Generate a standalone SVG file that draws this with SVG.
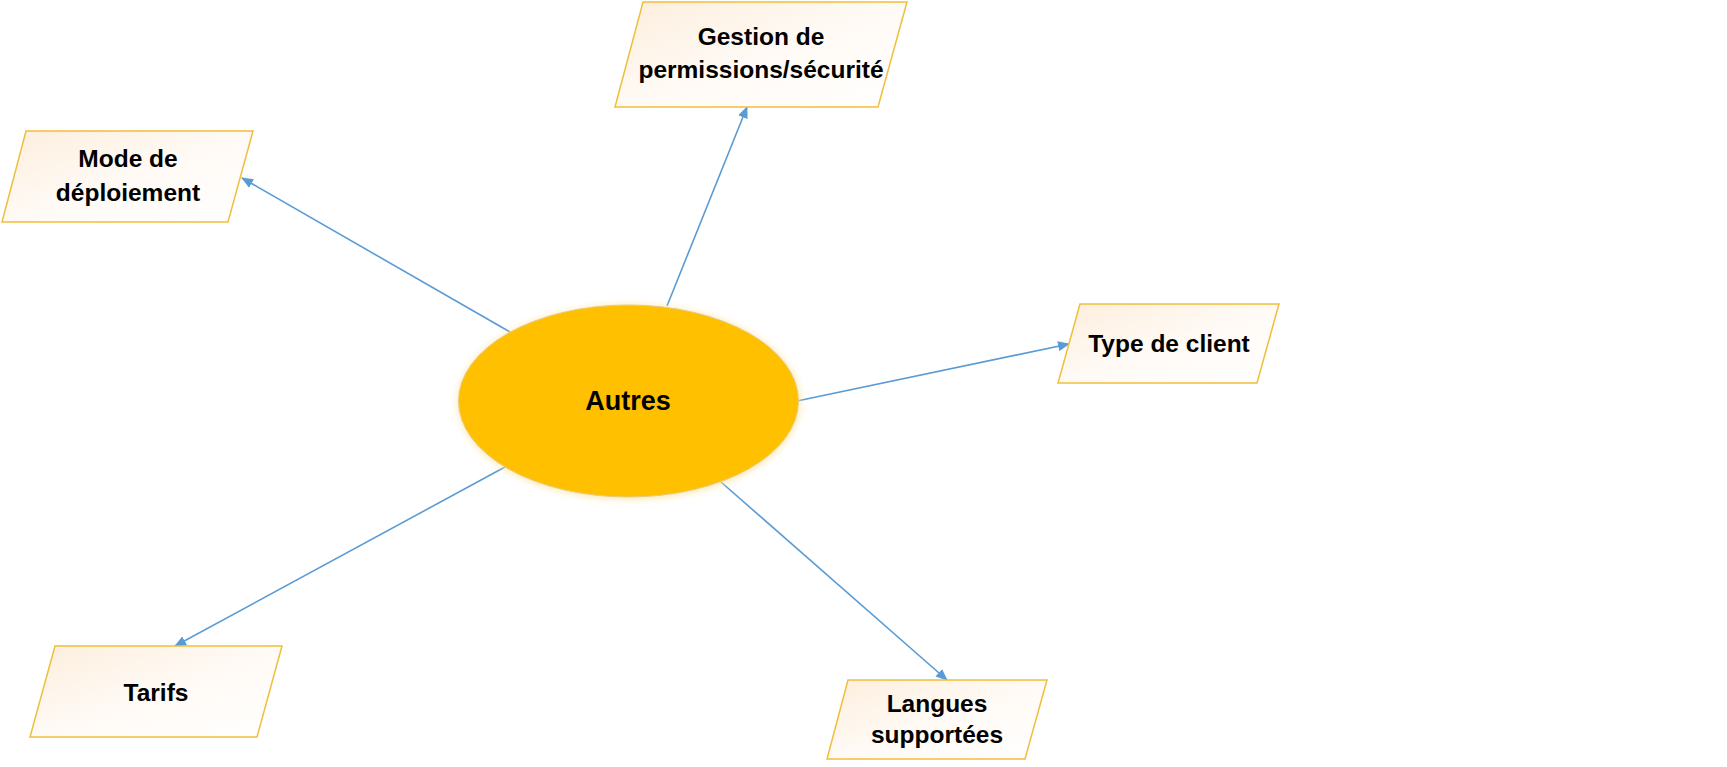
<svg xmlns="http://www.w3.org/2000/svg" width="1727" height="767" viewBox="0 0 1727 767">
<defs>
<linearGradient id="boxfill" x1="0" y1="0" x2="1" y2="1">
<stop offset="0" stop-color="#fdeedc"/>
<stop offset="0.5" stop-color="#fffaf5"/>
<stop offset="1" stop-color="#ffffff"/>
</linearGradient>
<filter id="glow" x="-20%" y="-20%" width="140%" height="140%">
<feGaussianBlur stdDeviation="3"/>
</filter>
<marker id="arr" viewBox="0 0 12 10" refX="11" refY="5" markerWidth="12" markerHeight="10" markerUnits="userSpaceOnUse" orient="auto">
<path d="M0,0 L12,5 L0,10 Z" fill="#5b9bd5"/>
</marker>
</defs>
<style>
.box{fill:url(#boxfill);stroke:#efbe3a;stroke-width:1.5}
.lbl{font-family:"Liberation Sans",Arial,sans-serif;font-weight:bold;font-size:24.5px;fill:#000;text-anchor:middle}
.conn{stroke:#5b9bd5;stroke-width:1.6;fill:none;marker-end:url(#arr)}
</style>
<rect width="1727" height="767" fill="#ffffff"/>
<g id="connectors">
<line class="conn" x1="510" y1="332" x2="242" y2="178"/>
<line class="conn" x1="667" y1="306" x2="747" y2="107"/>
<line class="conn" x1="797" y1="401" x2="1069" y2="344"/>
<line class="conn" x1="505" y1="467" x2="175" y2="646"/>
<line class="conn" x1="721" y1="482" x2="947" y2="680"/>
</g>
<g id="center">
<ellipse cx="629" cy="402" rx="172" ry="98" fill="#fbe3a0" opacity="0.7" filter="url(#glow)"/>
<ellipse cx="628.5" cy="401" rx="170" ry="96" fill="#ffc000" stroke="#e9c98a" stroke-width="1"/>
<text class="lbl" x="628" y="410" style="font-size:27px">Autres</text>
</g>
<g id="mode">
<polygon class="box" points="26,131 253,131 228,222 2,222"/>
<text class="lbl" x="128" y="167">Mode de</text>
<text class="lbl" x="128" y="201">déploiement</text>
</g>
<g id="gestion">
<polygon class="box" points="643,2 907,2 878,107 615,107"/>
<text class="lbl" x="761" y="45">Gestion de</text>
<text class="lbl" x="761" y="78">permissions/sécurité</text>
</g>
<g id="type">
<polygon class="box" points="1080,304 1279,304 1257,383 1058,383"/>
<text class="lbl" x="1169" y="352">Type de client</text>
</g>
<g id="tarifs">
<polygon class="box" points="55,646 282,646 257,737 30,737"/>
<text class="lbl" x="156" y="701">Tarifs</text>
</g>
<g id="langues">
<polygon class="box" points="848,680 1047,680 1025,759 827,759"/>
<text class="lbl" x="937" y="712">Langues</text>
<text class="lbl" x="937" y="743">supportées</text>
</g>
</svg>
